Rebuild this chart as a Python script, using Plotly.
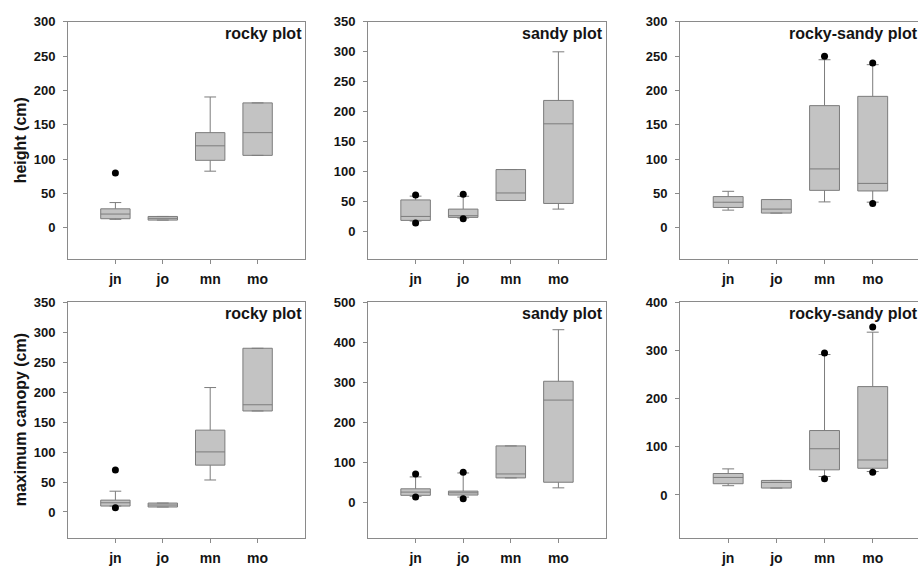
import plotly.graph_objects as go

categories = ["jn", "jo", "mn", "mo"]

# Panel 1: height, rocky plot
h_rocky_q1 = [13.4, 11.4, 98.4, 105.6]
h_rocky_med = [20.2, 14.0, 119.5, 138.7]
h_rocky_q3 = [27.8, 16.7, 138.7, 182.0]
h_rocky_lo = [12.5, 11.4, 82.6, 105.6]
h_rocky_hi = [36.9, 16.7, 190.6, 182.0]
h_rocky_out_x = ["jn"]
h_rocky_out_y = [80.0]

# Panel 2: height, sandy plot
h_sandy_q1 = [19.1, 24.1, 52.2, 47.3]
h_sandy_med = [25.7, 26.9, 64.8, 180.0]
h_sandy_q3 = [53.2, 37.9, 103.8, 219.0]
h_sandy_lo = [18.0, 23.0, 52.2, 37.9]
h_sandy_hi = [59.5, 59.3, 103.8, 300.0]
h_sandy_out_x = ["jn", "jn", "jo", "jo"]
h_sandy_out_y = [61.5, 14.8, 62.6, 21.9]

# Panel 3: height, rocky-sandy plot
h_rs_q1 = [29.8, 21.6, 54.7, 53.8]
h_rs_med = [37.4, 27.4, 85.9, 64.8]
h_rs_q3 = [45.6, 41.3, 178.0, 191.5]
h_rs_lo = [25.9, 21.6, 37.9, 37.5]
h_rs_hi = [53.3, 41.3, 244.8, 237.6]
h_rs_out_x = ["mn", "mo", "mo"]
h_rs_out_y = [250.0, 240.0, 35.5]

# Panel 4: maximum canopy, rocky plot
c_rocky_q1 = [9.9, 8.3, 78.2, 168.6]
c_rocky_med = [15.4, 11.6, 100.3, 179.0]
c_rocky_q3 = [19.8, 14.9, 136.6, 273.3]
c_rocky_lo = [9.9, 8.3, 53.4, 168.6]
c_rocky_hi = [34.7, 14.9, 207.7, 273.3]
c_rocky_out_x = ["jn", "jn"]
c_rocky_out_y = [70.0, 7.1]

# Panel 5: maximum canopy, sandy plot
c_sandy_q1 = [18.3, 19.0, 61.8, 51.0]
c_sandy_med = [26.4, 24.7, 71.7, 256.0]
c_sandy_q3 = [34.6, 28.9, 141.7, 303.0]
c_sandy_lo = [16.0, 14.0, 61.8, 37.0]
c_sandy_hi = [64.3, 74.1, 141.7, 431.6]
c_sandy_out_x = ["jn", "jn", "jo", "jo"]
c_sandy_out_y = [71.6, 14.1, 75.8, 9.9]

# Panel 6: maximum canopy, rocky-sandy plot
c_rs_q1 = [23.4, 14.4, 52.2, 55.5]
c_rs_med = [36.4, 26.0, 96.0, 72.7]
c_rs_q3 = [44.6, 30.2, 133.8, 225.0]
c_rs_lo = [19.3, 14.4, 38.4, 48.7]
c_rs_hi = [54.2, 30.2, 291.6, 338.0]
c_rs_out_x = ["mn", "mn", "mo", "mo"]
c_rs_out_y = [295.0, 33.7, 348.5, 47.3]

panel_titles = ["rocky plot", "sandy plot", "rocky-sandy plot",
                "rocky plot", "sandy plot", "rocky-sandy plot"]
y_titles = ["height (cm)", "maximum canopy (cm)"]

panels = [
    (h_rocky_q1, h_rocky_med, h_rocky_q3, h_rocky_lo, h_rocky_hi, h_rocky_out_x, h_rocky_out_y),
    (h_sandy_q1, h_sandy_med, h_sandy_q3, h_sandy_lo, h_sandy_hi, h_sandy_out_x, h_sandy_out_y),
    (h_rs_q1, h_rs_med, h_rs_q3, h_rs_lo, h_rs_hi, h_rs_out_x, h_rs_out_y),
    (c_rocky_q1, c_rocky_med, c_rocky_q3, c_rocky_lo, c_rocky_hi, c_rocky_out_x, c_rocky_out_y),
    (c_sandy_q1, c_sandy_med, c_sandy_q3, c_sandy_lo, c_sandy_hi, c_sandy_out_x, c_sandy_out_y),
    (c_rs_q1, c_rs_med, c_rs_q3, c_rs_lo, c_rs_hi, c_rs_out_x, c_rs_out_y),
]

y_ranges = [[-45, 300], [-45, 350], [-45, 300], [-44, 350], [-89, 500], [-90, 400]]
y_dticks = [50, 50, 50, 50, 100, 100]

W, H = 918, 566
col_px = [(68, 305), (368, 606), (680, 918)]
row_px = [(15, 255), (299, 538)]
x_ranges = [[-1, 4], [-1, 4], [-1, 3.94]]

FILL = "#c3c3c3"
LINE = "#7c7c7c"
FRAME = "#8a8a8a"
FONT = "Liberation Sans, Arial, sans-serif"
INK = "#141414"

fig = go.Figure()
layout = dict(
    width=W, height=H, margin=dict(l=0, r=0, t=0, b=0),
    paper_bgcolor="white", plot_bgcolor="white", showlegend=False,
    font=dict(family=FONT, color=INK),
    annotations=[],
)

for i, (q1, med, q3, lo, hi, ox, oy) in enumerate(panels):
    r, c = divmod(i, 3)
    n = "" if i == 0 else str(i + 1)
    xa, ya = "x" + n, "y" + n
    fig.add_trace(go.Box(
        x=categories, q1=q1, median=med, q3=q3, lowerfence=lo, upperfence=hi,
        xaxis=xa, yaxis=ya, width=0.62, whiskerwidth=0.4,
        fillcolor=FILL, line=dict(color=LINE, width=1), boxpoints=False,
        hoverinfo="skip",
    ))
    fig.add_trace(go.Scatter(
        x=ox, y=oy, mode="markers", xaxis=xa, yaxis=ya,
        marker=dict(color="black", size=7), hoverinfo="skip",
    ))
    x0, x1 = col_px[c]
    y0, y1 = row_px[r]
    layout["xaxis" + n] = dict(
        domain=[x0 / W, x1 / W], anchor=ya, type="category",
        categoryorder="array", categoryarray=categories,
        range=x_ranges[c], showgrid=False, zeroline=False,
        showline=True, linecolor=FRAME, linewidth=1, mirror=True,
        ticks="outside", ticklen=4, tickcolor=FRAME,
        tickfont=dict(size=14, family=FONT, color=INK, weight="bold"),
        ticklabelstandoff=3, fixedrange=True,
    )
    layout["yaxis" + n] = dict(
        domain=[1 - y1 / H, 1 - y0 / H], anchor=xa,
        range=y_ranges[i], dtick=y_dticks[i], tick0=0,
        showgrid=False, zeroline=False,
        showline=True, linecolor=FRAME, linewidth=1, mirror=(c != 2),
        ticks="outside", ticklen=4, tickcolor=FRAME,
        tickfont=dict(size=13, family=FONT, color=INK, weight="bold"),
        ticklabelstandoff=5, fixedrange=True,
    )
    layout["annotations"].append(dict(
        text=panel_titles[i], xref=xa + " domain", yref=ya + " domain",
        x=1, y=1, xanchor="right", yanchor="top", showarrow=False,
        xshift=(-1 if c != 2 else 2), yshift=-1,
        font=dict(size=16, family=FONT, color=INK, weight="bold"),
    ))

for r, t in enumerate(y_titles):
    y0, y1 = row_px[r]
    layout["annotations"].append(dict(
        text=t, xref="paper", yref="paper", x=20 / W, y=1 - (y0 + y1) / 2 / H,
        xanchor="center", yanchor="middle", textangle=-90, showarrow=False,
        font=dict(size=16, family=FONT, color=INK, weight="bold"),
    ))

fig.update_layout(**layout)
fig.write_html(
    "out.html",
    config={"displayModeBar": False, "staticPlot": True},
    post_script="document.body.style.margin='0';document.body.style.overflow='hidden';",
)
